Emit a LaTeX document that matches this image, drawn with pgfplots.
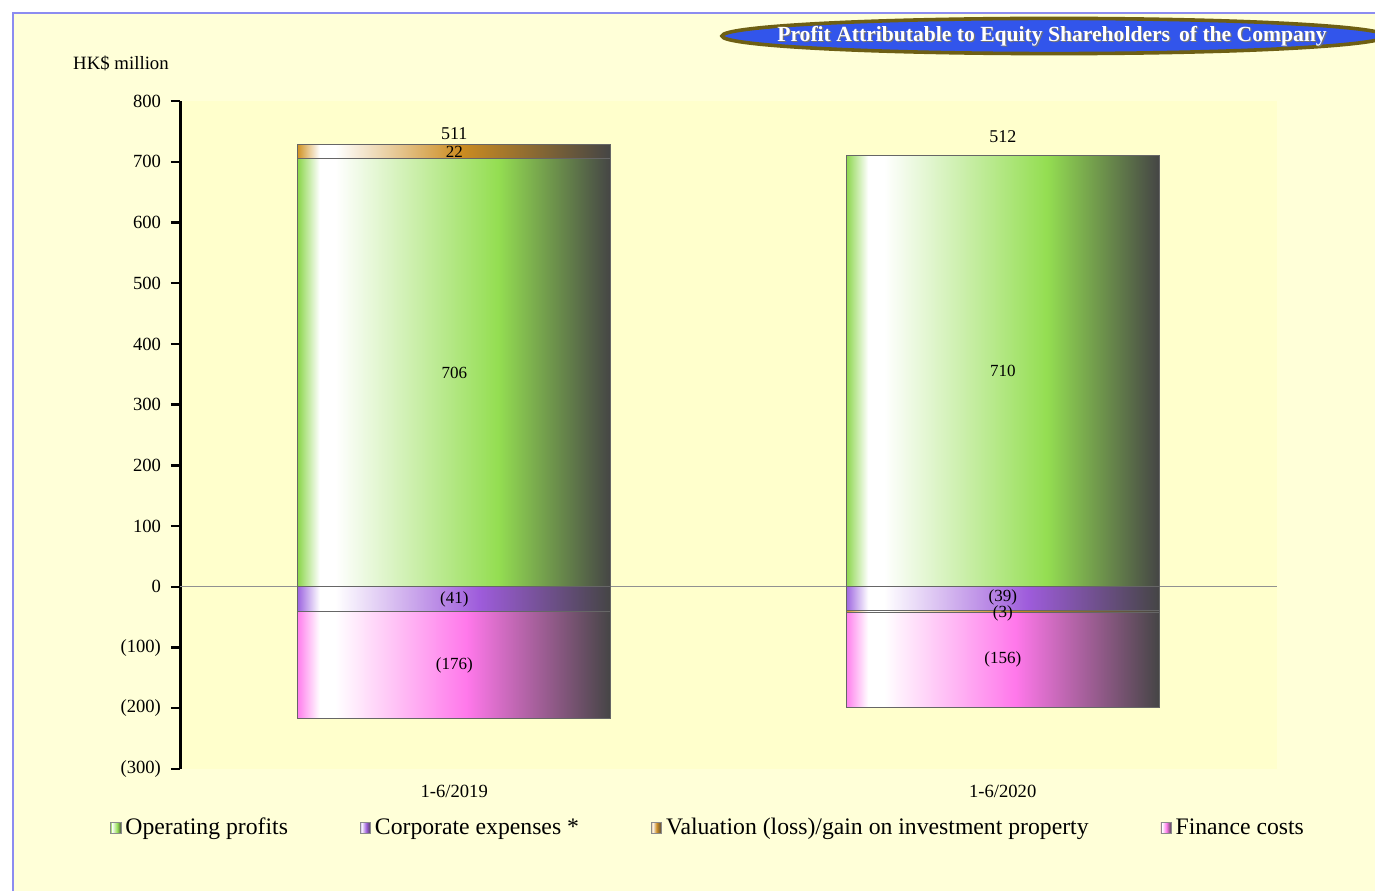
\documentclass[border=0pt]{standalone}
\usepackage{fontspec}
\setmainfont{Liberation Serif}
\usepackage{pgfplots}
\pgfplotsset{compat=1.18}

\definecolor{bgout}{RGB}{255,255,216}
\definecolor{bgplot}{RGB}{255,255,204}
\definecolor{framecol}{RGB}{140,140,240}
\definecolor{titleblue}{RGB}{50,85,235}
\definecolor{titleedge}{RGB}{110,95,20}
\definecolor{zerocol}{RGB}{145,145,145}

\pgfdeclarehorizontalshading{shgreen}{100bp}{rgb(0bp)=(0.55,0.84,0.30); rgb(25bp)=(0.55,0.84,0.30); rgb(28.5bp)=(1,1,1); rgb(31bp)=(1,1,1); rgb(57bp)=(0.58,0.87,0.32); rgb(75bp)=(0.27,0.27,0.27); rgb(100bp)=(0.27,0.27,0.27)}
\pgfdeclarehorizontalshading{shpurple}{100bp}{rgb(0bp)=(0.62,0.40,0.88); rgb(25bp)=(0.62,0.40,0.88); rgb(28.5bp)=(1,1,1); rgb(31bp)=(1,1,1); rgb(54bp)=(0.62,0.36,0.86); rgb(75bp)=(0.27,0.27,0.27); rgb(100bp)=(0.27,0.27,0.27)}
\pgfdeclarehorizontalshading{shgold}{100bp}{rgb(0bp)=(0.82,0.58,0.15); rgb(25bp)=(0.82,0.58,0.15); rgb(28.5bp)=(1,1,1); rgb(31bp)=(1,1,1); rgb(51bp)=(0.80,0.55,0.13); rgb(75bp)=(0.27,0.27,0.27); rgb(100bp)=(0.27,0.27,0.27)}
\pgfdeclarehorizontalshading{shpink}{100bp}{rgb(0bp)=(1,0.50,0.93); rgb(25bp)=(1,0.50,0.93); rgb(28.5bp)=(1,1,1); rgb(31bp)=(1,1,1); rgb(52bp)=(1,0.47,0.92); rgb(75bp)=(0.27,0.27,0.27); rgb(100bp)=(0.27,0.27,0.27)}

\pgfplotsset{
  common/.style={
    at={(90pt,61pt)}, anchor=south west,
    scale only axis, width=548.5pt, height=334pt,
    xmin=-0.5, xmax=1.5, ymin=-300, ymax=800,
    clip=false,
  },
  stackax/.style={common, hide axis, ybar stacked, bar width=156.5pt},
  segbar/.style={draw=black!60, line width=0.5pt, shade},
}
\tikzset{lbl/.style={font=\fontsize{8.5}{10}\selectfont, inner sep=0pt}}

\begin{document}
\begin{tikzpicture}[x=1pt,y=1pt]
\useasboundingbox (0,0) rectangle (687.5,445.5);
\fill[white] (0,0) rectangle (687.5,445.5);
\fill[bgout] (6.5,0) rectangle (687.5,439);
\draw[framecol, line width=0.8pt] (6.5,0) -- (6.5,439) -- (690,439);

% axes frame, ticks and zero line
\begin{axis}[
  common,
  xtick={0,1}, xticklabels={1-6/2019,1-6/2020},
  ytick={-300,-200,-100,0,100,200,300,400,500,600,700,800},
  yticklabels={(300),(200),(100),0,100,200,300,400,500,600,700,800},
  axis lines*=left,
  x axis line style={draw=none},
  y axis line style={line width=1.5pt, black},
  axis background/.style={fill=bgplot},
  tick align=outside, major tick length=4.5pt,
  ytick style={line width=1.2pt, black},
  xtick style={draw=none},
  ticklabel style={font=\fontsize{9.3}{11}\selectfont},
  xticklabel style={yshift=0pt},
  yticklabel style={xshift=-1.5pt},
  extra y ticks={0}, extra y tick labels={},
  extra y tick style={grid=major, major grid style={draw=zerocol, line width=0.6pt}, tick style={draw=none}},
]
\end{axis}

% 1-6/2019 positive stack
\begin{axis}[stackax]
\addplot[segbar, shading=shgreen] coordinates {(0,706)};
\addplot[segbar, shading=shgold] coordinates {(0,22)};
\end{axis}
% 1-6/2020 positive stack
\begin{axis}[stackax]
\addplot[segbar, shading=shgreen] coordinates {(1,710)};
\end{axis}
% 1-6/2019 negative stack
\begin{axis}[stackax]
\addplot[segbar, shading=shpurple] coordinates {(0,-41)};
\addplot[segbar, shading=shpink] coordinates {(0,-176)};
\end{axis}
% 1-6/2020 negative stack
\begin{axis}[stackax]
\addplot[segbar, shading=shpurple] coordinates {(1,-39)};
\addplot[segbar, shading=shgold] coordinates {(1,-3)};
\addplot[segbar, shading=shpink] coordinates {(1,-156)};
\end{axis}

% labels and legend
\begin{axis}[common, hide axis,
  legend columns=4,
  legend cell align=left,
  legend image code/.code={\path[#1,draw=black!45,line width=0.3pt] (0pt,-2.6pt) rectangle (5.2pt,2.6pt);},
  legend style={draw=none, fill=none, inner sep=0pt, at={(-0.0638,-0.0883)}, anchor=west,
    font=\fontsize{11.85}{13}\selectfont,
    /tikz/every even column/.append style={column sep=34pt}},
]
\addlegendimage{shade, shading=shgreen}
\addlegendentry{Operating profits}
\addlegendimage{shade, shading=shpurple}
\addlegendentry{Corporate expenses *}
\addlegendimage{shade, shading=shgold}
\addlegendentry{Valuation (loss)/gain on investment property}
\addlegendimage{shade, shading=shpink}
\addlegendentry{Finance costs}
\node[lbl] at (axis cs:0,353) {706};
\node[lbl] at (axis cs:0,717) {22};
\node[lbl] at (axis cs:0,-20.5) {(41)};
\node[lbl] at (axis cs:0,-129) {(176)};
\node[lbl] at (axis cs:1,355) {710};
\node[lbl] at (axis cs:1,-17.5) {(39)};
\node[lbl] at (axis cs:1,-44) {(3)};
\node[lbl] at (axis cs:1,-120) {(156)};
\node[lbl, font=\fontsize{9}{10}\selectfont] at (axis cs:0,747) {511};
\node[lbl, font=\fontsize{9}{10}\selectfont] at (axis cs:1,742) {512};
\end{axis}

\node[font=\fontsize{9.4}{11}\selectfont, inner sep=0pt] at (60.5,414) {HK\$ million};

\begin{scope}
\clip (0,0) rectangle (687.5,445.5);
\filldraw[fill=titleblue, draw=titleedge, line width=1.8pt] (527,427.5) ellipse [x radius=166, y radius=8.8];
\end{scope}
\node[font=\fontsize{10.8}{12}\selectfont\bfseries, text=black!55, inner sep=0pt] at (526.6,426.9) {Profit Attributable to Equity Shareholders\ \,of the Company};
\node[font=\fontsize{10.8}{12}\selectfont\bfseries, text=white, inner sep=0pt] at (526,427.5) {Profit Attributable to Equity Shareholders\ \,of the Company};
\end{tikzpicture}
\end{document}
